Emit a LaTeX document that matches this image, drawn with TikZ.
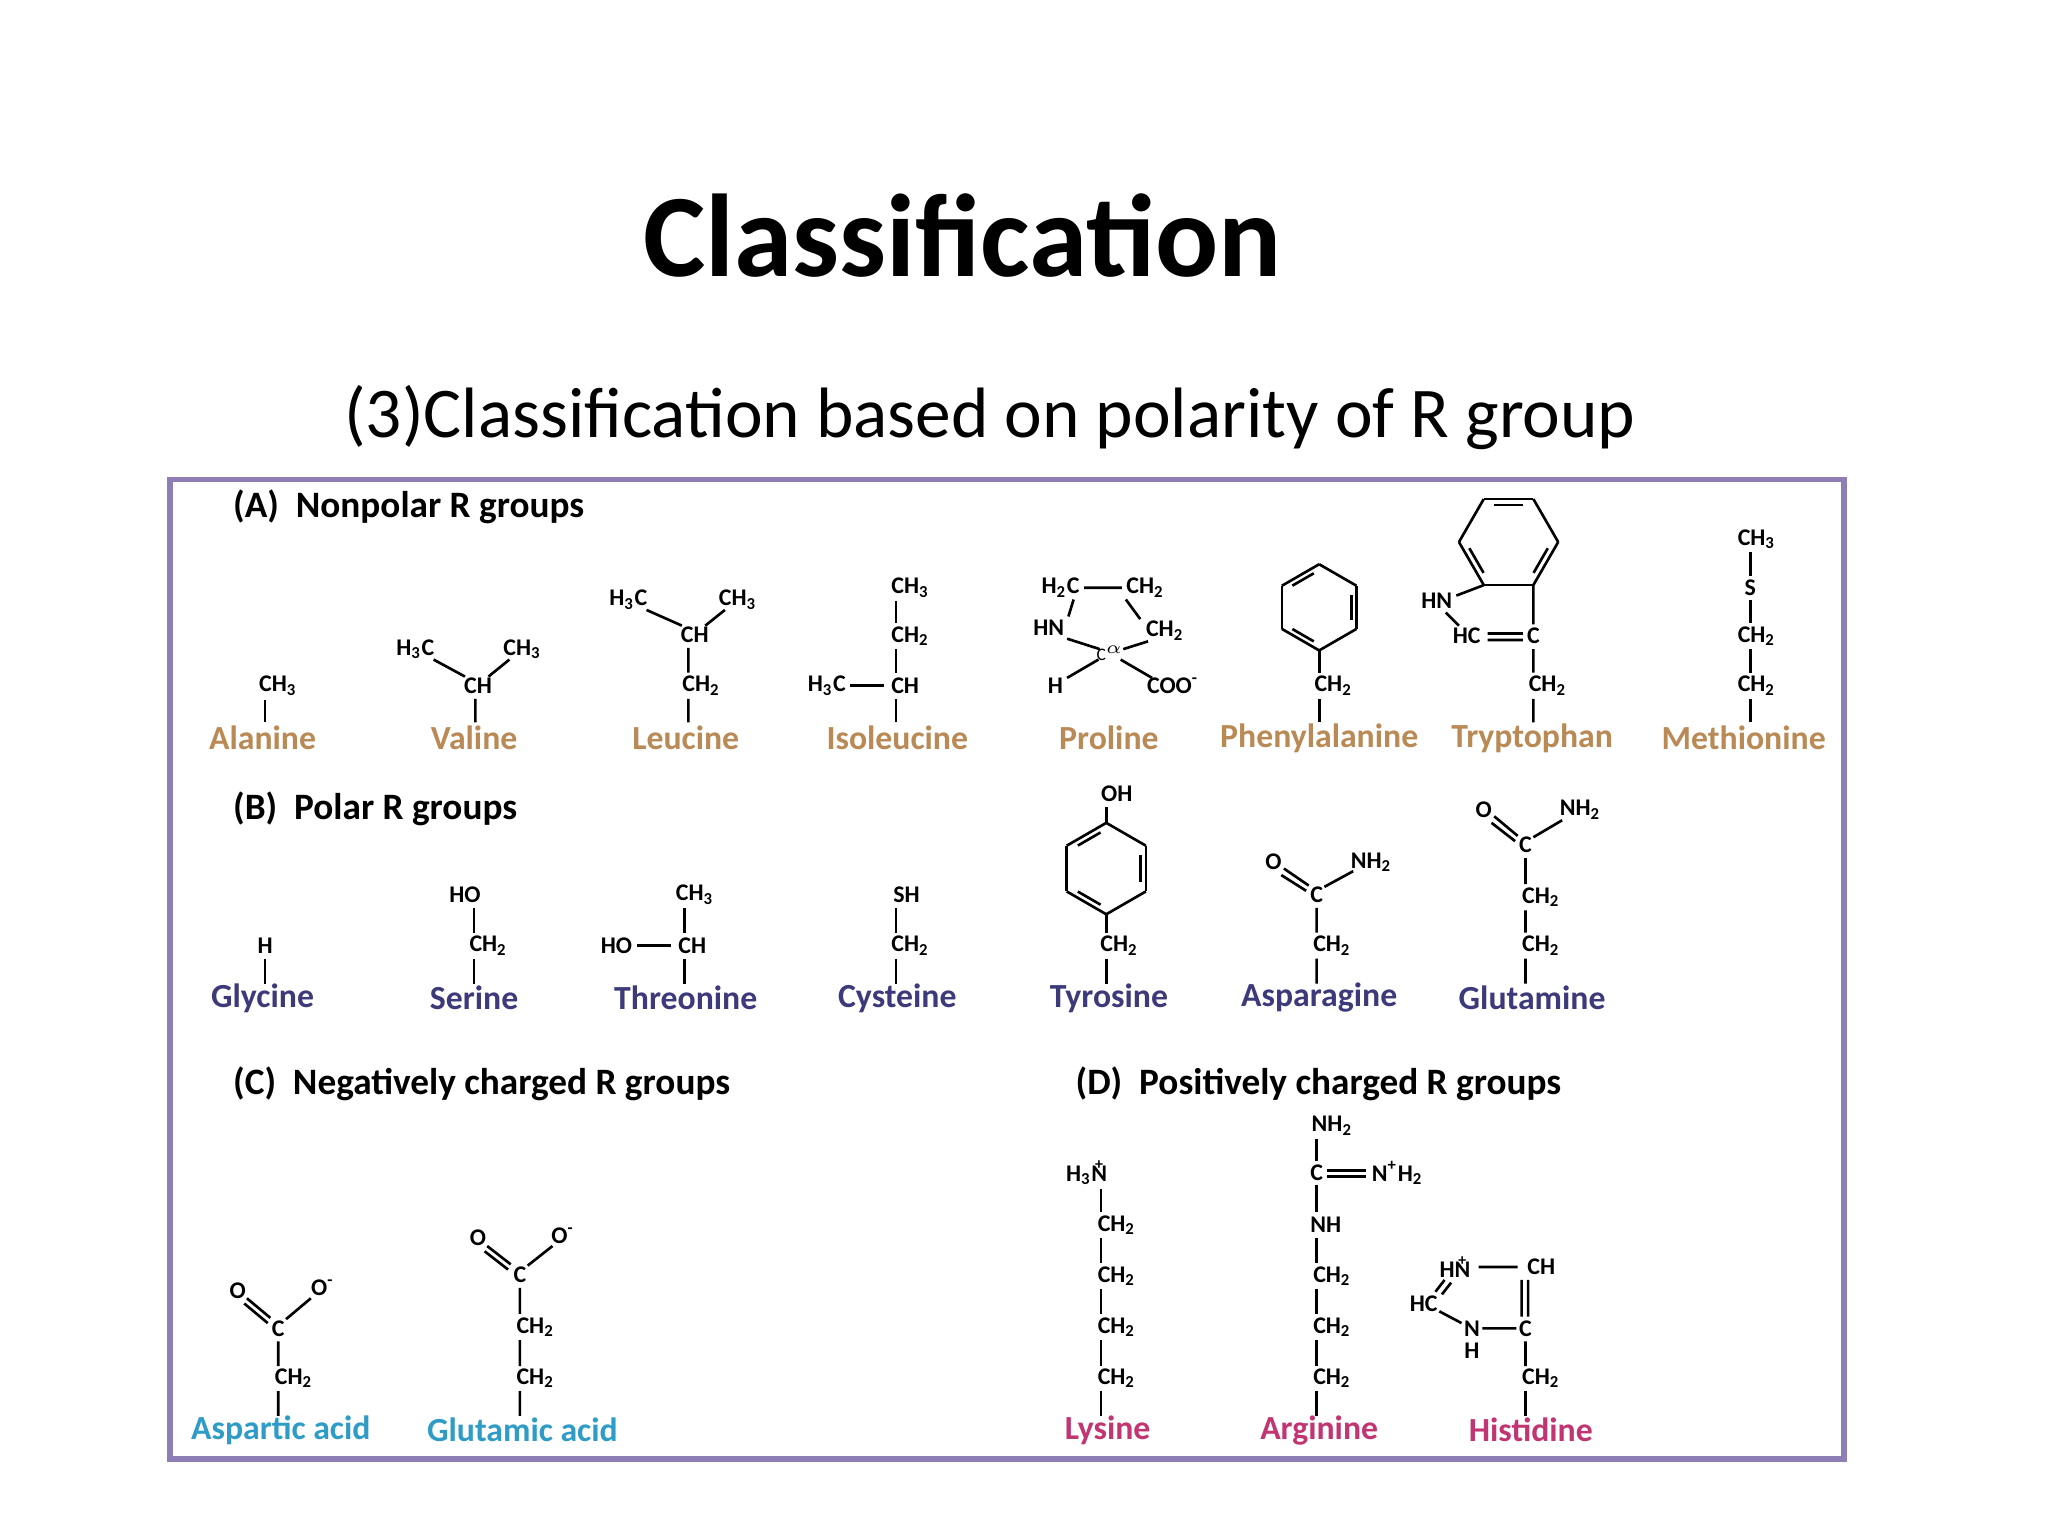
\documentclass[tikz,border=0pt]{standalone}
\usepackage{fontspec}
\setmainfont{Carlito}
\tikzset{
 ch/.style={font=\bfseries\fontsize{6.8}{7}\selectfont, inner sep=0.5pt},
 hdr/.style={font=\bfseries\fontsize{10.6}{12}\selectfont, anchor=west, inner sep=0pt},
 nm/.style={font=\bfseries\fontsize{9.6}{11}\selectfont, inner sep=0pt},
 nA/.style={nm, text=nonpol}, nB/.style={nm, text=polr}, nC/.style={nm, text=negc}, nD/.style={nm, text=posc},
 bond/.style={line width=0.75pt, black},
}
\definecolor{nonpol}{HTML}{B98A55}
\definecolor{polr}{HTML}{3C3A7A}
\definecolor{negc}{HTML}{2E9CC6}
\definecolor{posc}{HTML}{C13572}
\definecolor{frame}{HTML}{8F7DB5}
\newcommand\sub[1]{\textsubscript{#1}}
\newcommand\pN{\makebox[0pt][l]{\raisebox{1.0ex}{\kern0.15em\fontsize{4.5}{4.5}\selectfont+}}N}
\newcommand\hexring[4]{%
 \foreach \k in {0,...,5}{\draw[bond] ({#1+#3*cos(#4+60*\k)},{#2+#3*sin(#4+60*\k)}) -- ({#1+#3*cos(#4+60*\k+60)},{#2+#3*sin(#4+60*\k+60)});}
 \foreach \k in {0,2,4}{\draw[bond] ({#1+0.8*#3*cos(#4+60*\k+9)},{#2+0.8*#3*sin(#4+60*\k+9)}) -- ({#1+0.8*#3*cos(#4+60*\k+51)},{#2+0.8*#3*sin(#4+60*\k+51)});}}
\begin{document}
\begin{tikzpicture}[x=0.01306cm,y=-0.01306cm]
\useasboundingbox (0,0) rectangle (1568,1176);
\node (title) at (737,180) {\bfseries\fontsize{33.5}{38}\selectfont Classification};
\node (sub) at (758,320) {\fontsize{20.3}{24}\selectfont (3)Classification based on polarity of R group};
\draw[frame, line width=1.6pt, fill=white] (130,367) rectangle (1412,1117);
% (A)
\node[hdr] (hA) at (178,388) {(A)\ \ Nonpolar R groups};
\node[nA] (ala) at (201,565) {Alanine};
\node[nA] (val) at (363,565) {Valine};
\node[nA] (leu) at (525,565) {Leucine};
\node[nA] (ile) at (687,565) {Isoleucine};
\node[nA] (pro) at (849,565) {Proline};
\node[nA] (phe) at (1010,565) {Phenylalanine};
\node[nA] (trp) at (1173,565) {Tryptophan};
\node[nA] (met) at (1335,565) {Methionine};
% Ala
\node[ch] (a1) at (213,525) {CH\sub3};
\draw[bond] (203,536)--(203,553);
% Val
\node[ch] (v1) at (318,497) {H\sub3C}; \node[ch] (v2) at (400,497) {CH\sub3}; \node[ch] (v3) at (366,525) {CH};
\draw[bond] (332,505)--(356,518) (390,505)--(374,518) (364,535)--(364,553);
% Leu
\node[ch] (l1) at (481,459) {H\sub3C}; \node[ch] (l2) at (565,459) {CH\sub3}; \node[ch] (l3) at (532,486) {CH};
\node[ch] (l4) at (537,525) {CH\sub2};
\draw[bond] (495,467)--(522,479) (555,467)--(540,479) (527,496)--(527,515) (527,535)--(527,553);
% Ile
\node[ch] (i1) at (697,450) {CH\sub3}; \node[ch] (i2) at (697,487) {CH\sub2};
\node[ch] (i3) at (633,525) {H\sub3C}; \node[ch] (i4) at (693,525) {CH};
\draw[bond] (651,525)--(677,525) (686,460)--(686,477) (686,497)--(686,515) (686,535)--(686,553);
% Pro
\node[ch] (p1) at (812,450) {H\sub2C}; \node[ch] (p2) at (877,450) {CH\sub2};
\node[ch] (p3) at (803,481) {HN}; \node[ch] (p4) at (892,483) {CH\sub2};
\node[ch] (p5) at (850,500) {\fontsize{5}{5}\selectfont\mdseries C\textsuperscript{$\alpha$}};
\node[ch] (p6) at (808,525) {H}; \node[ch] (p7) at (898,525) {COO\textsuperscript{-}};
\draw[bond] (830,450)--(859,450) (822,459)--(818,472) (862,459)--(873,474)
 (817,489)--(842,497) (879,491)--(860,497) (817,519)--(841,505) (858,505)--(882,519);
% Phe
\hexring{1010}{465}{33}{90}
\node[ch] (f1) at (1021,525) {CH\sub2};
\draw[bond] (1010,498)--(1010,515) (1010,535)--(1010,553);
% Trp
\hexring{1155}{415}{38}{0}
\node[ch] (t1) at (1100,460) {HN}; \node[ch] (t2) at (1123,487) {HC};
\node[ch] (t3) at (1174,487) {C}; \node[ch] (t4) at (1185,525) {CH\sub2};
\draw[bond] (1136,448)--(1115,456) (1107,469)--(1117,479)
 (1139,485)--(1166,485) (1139,490)--(1166,490)
 (1174,448)--(1174,478) (1174,497)--(1174,515) (1174,535)--(1174,553);
% Met
\node[ch] (m1) at (1345,413) {CH\sub3}; \node[ch] (m2) at (1340,450) {S};
\node[ch] (m3) at (1345,487) {CH\sub2}; \node[ch] (m4) at (1345,525) {CH\sub2};
\draw[bond] (1340,423)--(1340,441) (1340,459)--(1340,477) (1340,497)--(1340,515) (1340,535)--(1340,553);
% (B)
\node[hdr] (hB) at (178,619) {(B)\ \ Polar R groups};
\node[nB] (gly) at (201,764) {Glycine};
\node[nB] (ser) at (363,764) {Serine};
\node[nB] (thr) at (525,764) {Threonine};
\node[nB] (cys) at (687,764) {Cysteine};
\node[nB] (tyr) at (849,764) {Tyrosine};
\node[nB] (asn) at (1010,764) {Asparagine};
\node[nB] (gln) at (1173,764) {Glutamine};
\node[ch] (g1) at (203,724) {H};
\draw[bond] (203,734)--(203,753);
\node[ch] (s1) at (356,685) {HO}; \node[ch] (s2) at (374,724) {CH\sub2};
\draw[bond] (363,695)--(363,714) (363,734)--(363,753);
\node[ch] (h1) at (532,685) {CH\sub3}; \node[ch] (h2) at (472,724) {HO}; \node[ch] (h3) at (530,724) {CH};
\draw[bond] (488,724)--(514,724) (524,695)--(524,714) (524,734)--(524,753);
\node[ch] (c1) at (694,685) {SH}; \node[ch] (c2) at (697,724) {CH\sub2};
\draw[bond] (686,695)--(686,714) (686,734)--(686,753);
\node[ch] (y1) at (855,608) {OH};
\hexring{847}{665}{35}{90}
\node[ch] (y2) at (857,724) {CH\sub2};
\draw[bond] (847,618)--(847,630) (847,700)--(847,714) (847,734)--(847,753);
\node[ch] (n1) at (975,660) {O}; \node[ch] (n2) at (1050,660) {NH\sub2}; \node[ch] (n3) at (1008,685) {C};
\node[ch] (n4) at (1020,724) {CH\sub2};
\draw[bond] (983,665)--(1002,678) (981,670)--(1000,682) (1014,679)--(1036,667) (1008,695)--(1008,714) (1008,734)--(1008,753);
\node[ch] (q1) at (1136,620) {O}; \node[ch] (q2) at (1210,620) {NH\sub2}; \node[ch] (q3) at (1168,647) {C};
\node[ch] (q4) at (1180,687) {CH\sub2}; \node[ch] (q5) at (1180,724) {CH\sub2};
\draw[bond] (1144,625)--(1162,640) (1142,630)--(1160,644) (1174,641)--(1196,628) (1168,657)--(1168,677) (1168,697)--(1168,714) (1168,734)--(1168,753);
% (C)
\node[hdr] (hC) at (178,830) {(C)\ \ Negatively charged R groups};
\node[nC] (asp) at (215,1095) {Aspartic acid};
\node[nC] (glu) at (400,1095) {Glutamic acid};
\node[ch] (d1) at (182,988) {O}; \node[ch] (d2) at (247,986) {O\textsuperscript{-}}; \node[ch] (d3) at (213,1017) {C};
\node[ch] (d4) at (225,1055) {CH\sub2};
\draw[bond] (189,994)--(207,1009) (187,998)--(205,1013) (219,1010)--(238,994) (213,1027)--(213,1046) (213,1065)--(213,1084);
\node[ch] (e1) at (366,948) {O}; \node[ch] (e2) at (431,946) {O\textsuperscript{-}}; \node[ch] (e3) at (398,976) {C};
\node[ch] (e4) at (410,1016) {CH\sub2}; \node[ch] (e5) at (410,1055) {CH\sub2};
\draw[bond] (373,954)--(391,968) (371,958)--(389,972) (404,969)--(423,954) (398,986)--(398,1006) (398,1026)--(398,1046) (398,1065)--(398,1084);
% (D)
\node[hdr] (hD) at (823,830) {(D)\ \ Positively charged R groups};
\node[nD] (lys) at (848,1095) {Lysine};
\node[nD] (arg) at (1010,1095) {Arginine};
\node[nD] (his) at (1172,1095) {Histidine};
\node[ch] (k1) at (832,898) {H\sub3\pN};
\foreach \yy/\nn in {938/k2,977/k3,1016/k4,1055/k5}{\node[ch] (\nn) at (855,\yy) {CH\sub2};}
\draw[bond] (843,910)--(843,928) (843,948)--(843,967) (843,987)--(843,1006) (843,1026)--(843,1046) (843,1065)--(843,1084);
\node[ch] (r1) at (1020,862) {NH\sub2}; \node[ch] (r2) at (1008,898) {C}; \node[ch] (r3) at (1070,898) {N\textsuperscript{+}H\sub2};
\node[ch] (r4) at (1015,938) {NH};
\foreach \yy/\nn in {977/r5,1016/r6,1055/r7}{\node[ch] (\nn) at (1020,\yy) {CH\sub2};}
\draw[bond] (1008,872)--(1008,889) (1016,896)--(1046,896) (1016,901)--(1046,901) (1008,907)--(1008,928) (1008,948)--(1008,967) (1008,987)--(1008,1006) (1008,1026)--(1008,1046) (1008,1065)--(1008,1084);
\node[ch] (x1) at (1114,970) {H\pN}; \node[ch] (x2) at (1180,970) {CH};
\node[ch] (x3) at (1090,998) {HC}; \node[ch] (x4) at (1127,1017) {N}; \node[ch] (x5) at (1127,1034) {H};
\node[ch] (x6) at (1168,1017) {C}; \node[ch] (x7) at (1180,1055) {CH\sub2};
\draw[bond] (1132,970)--(1162,970) (1106,980)--(1099,989) (1111,982)--(1104,991) (1102,1004)--(1119,1013)
 (1135,1017)--(1161,1017) (1165,980)--(1165,1008) (1170,980)--(1170,1008) (1168,1027)--(1168,1046) (1168,1065)--(1168,1084);
\end{tikzpicture}
\end{document}
